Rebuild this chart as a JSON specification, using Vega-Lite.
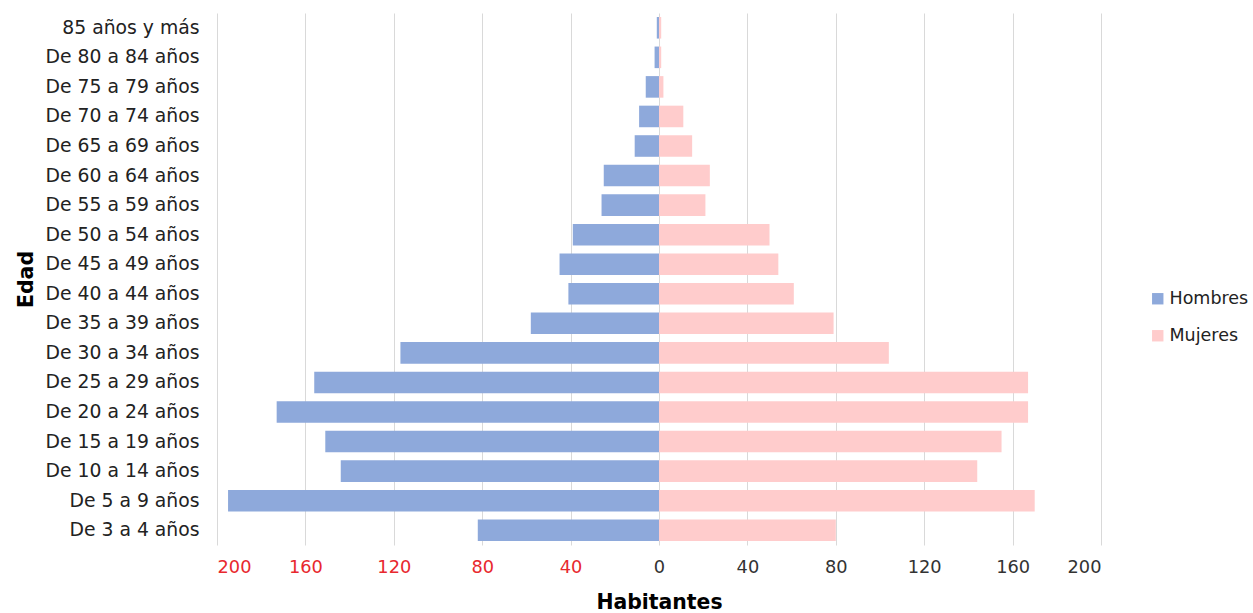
{
  "$schema": "https://vega.github.io/schema/vega-lite/v6.json",
  "width": 884,
  "height": 532,
  "autosize": {"type": "none"},
  "padding": {"left": 217, "top": 13, "right": 152, "bottom": 68},
  "background": "white",
  "config": {
    "view": {"stroke": null},
    "font": "DejaVu Sans"
  },
  "data": {
    "values": [
      {"edad": "85 años y más", "sexo": "Hombres", "habitantes": 1},
      {"edad": "85 años y más", "sexo": "Mujeres", "habitantes": 1},
      {"edad": "De 80 a 84 años", "sexo": "Hombres", "habitantes": 2},
      {"edad": "De 80 a 84 años", "sexo": "Mujeres", "habitantes": 1},
      {"edad": "De 75 a 79 años", "sexo": "Hombres", "habitantes": 6},
      {"edad": "De 75 a 79 años", "sexo": "Mujeres", "habitantes": 2},
      {"edad": "De 70 a 74 años", "sexo": "Hombres", "habitantes": 9},
      {"edad": "De 70 a 74 años", "sexo": "Mujeres", "habitantes": 11},
      {"edad": "De 65 a 69 años", "sexo": "Hombres", "habitantes": 11},
      {"edad": "De 65 a 69 años", "sexo": "Mujeres", "habitantes": 15},
      {"edad": "De 60 a 64 años", "sexo": "Hombres", "habitantes": 25},
      {"edad": "De 60 a 64 años", "sexo": "Mujeres", "habitantes": 23},
      {"edad": "De 55 a 59 años", "sexo": "Hombres", "habitantes": 26},
      {"edad": "De 55 a 59 años", "sexo": "Mujeres", "habitantes": 21},
      {"edad": "De 50 a 54 años", "sexo": "Hombres", "habitantes": 39},
      {"edad": "De 50 a 54 años", "sexo": "Mujeres", "habitantes": 50},
      {"edad": "De 45 a 49 años", "sexo": "Hombres", "habitantes": 45},
      {"edad": "De 45 a 49 años", "sexo": "Mujeres", "habitantes": 54},
      {"edad": "De 40 a 44 años", "sexo": "Hombres", "habitantes": 41},
      {"edad": "De 40 a 44 años", "sexo": "Mujeres", "habitantes": 61},
      {"edad": "De 35 a 39 años", "sexo": "Hombres", "habitantes": 58},
      {"edad": "De 35 a 39 años", "sexo": "Mujeres", "habitantes": 79},
      {"edad": "De 30 a 34 años", "sexo": "Hombres", "habitantes": 117},
      {"edad": "De 30 a 34 años", "sexo": "Mujeres", "habitantes": 104},
      {"edad": "De 25 a 29 años", "sexo": "Hombres", "habitantes": 156},
      {"edad": "De 25 a 29 años", "sexo": "Mujeres", "habitantes": 167},
      {"edad": "De 20 a 24 años", "sexo": "Hombres", "habitantes": 173},
      {"edad": "De 20 a 24 años", "sexo": "Mujeres", "habitantes": 167},
      {"edad": "De 15 a 19 años", "sexo": "Hombres", "habitantes": 151},
      {"edad": "De 15 a 19 años", "sexo": "Mujeres", "habitantes": 155},
      {"edad": "De 10 a 14 años", "sexo": "Hombres", "habitantes": 144},
      {"edad": "De 10 a 14 años", "sexo": "Mujeres", "habitantes": 144},
      {"edad": "De 5 a 9 años", "sexo": "Hombres", "habitantes": 195},
      {"edad": "De 5 a 9 años", "sexo": "Mujeres", "habitantes": 170},
      {"edad": "De 3 a 4 años", "sexo": "Hombres", "habitantes": 82},
      {"edad": "De 3 a 4 años", "sexo": "Mujeres", "habitantes": 80}
    ]
  },
  "transform": [
    {"calculate": "datum.sexo == 'Hombres' ? -datum.habitantes : datum.habitantes", "as": "valor"}
  ],
  "mark": {"type": "bar"},
  "encoding": {
    "y": {
      "field": "edad",
      "type": "nominal",
      "sort": null,
      "scale": {"paddingInner": 0.27, "paddingOuter": 0.135},
      "axis": {
        "title": "Edad",
        "titleFontSize": 20.5,
        "titleFontWeight": "bold",
        "titleColor": "#000000",
        "titlePadding": 9,
        "labelFontSize": 18.8,
        "labelColor": "#222222",
        "labelPadding": 18,
        "domain": false,
        "ticks": false,
        "grid": false
      }
    },
    "x": {
      "field": "valor",
      "type": "quantitative",
      "scale": {"domain": [-200, 200], "nice": false},
      "axis": {
        "title": "Habitantes",
        "titleFontSize": 20.4,
        "titleFontWeight": "bold",
        "titleColor": "#000000",
        "titlePadding": 17,
        "values": [-200, -160, -120, -80, -40, 0, 40, 80, 120, 160, 200],
        "labelExpr": "format(abs(datum.value), 'd')",
        "labelFontSize": 17.8,
        "labelColor": {"condition": {"test": "datum.value < 0", "value": "#E8282E"}, "value": "#333333"},
        "labelPadding": 13,
        "domain": false,
        "ticks": false,
        "grid": true,
        "gridColor": "#D9D9D9",
        "gridWidth": 1
      }
    },
    "color": {
      "field": "sexo",
      "type": "nominal",
      "scale": {"domain": ["Hombres", "Mujeres"], "range": ["#8EA9DB", "#FFCCCC"]},
      "legend": {
        "title": null,
        "orient": "none",
        "legendX": 932,
        "legendY": 277,
        "symbolType": "square",
        "symbolSize": 130,
        "symbolStrokeWidth": 0,
        "labelFontSize": 17.5,
        "labelColor": "#222222",
        "rowPadding": 18,
        "labelOffset": 3
      }
    }
  }
}
